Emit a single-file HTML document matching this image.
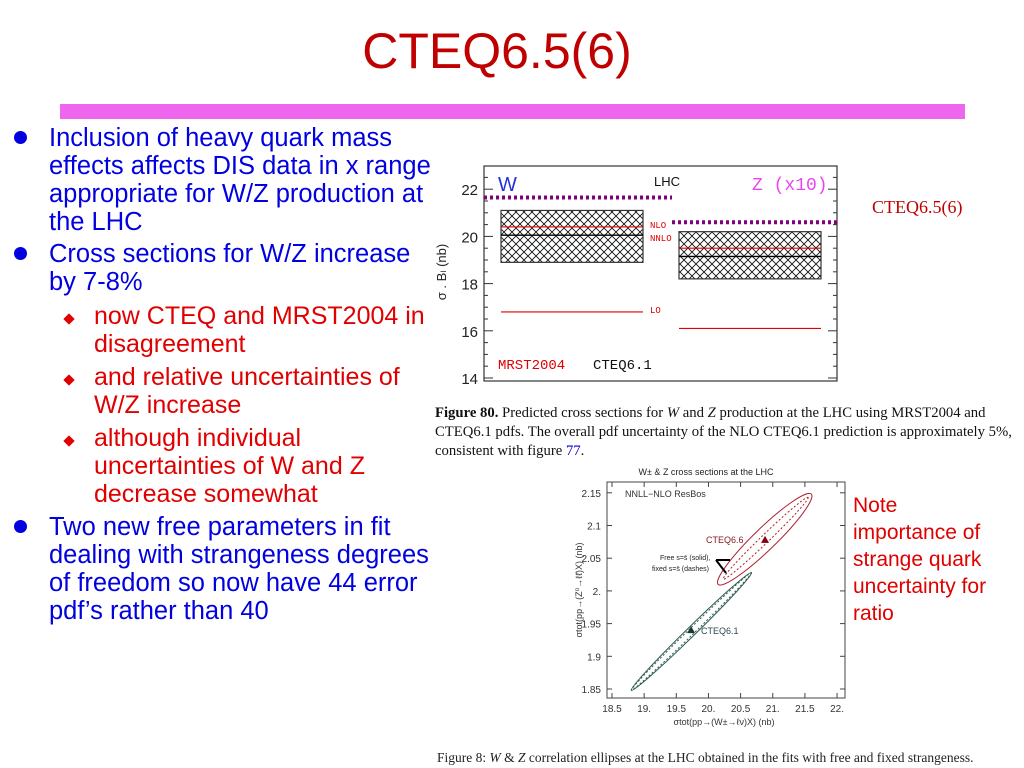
<!DOCTYPE html>
<html><head><meta charset="utf-8"><style>
body{margin:0;width:1024px;height:768px;background:#fff;position:relative;overflow:hidden;font-family:"Liberation Sans",Arial,sans-serif}
.a{position:absolute;white-space:nowrap}
.b{color:#0000e0;font-size:25.5px;line-height:28px}
.s{color:#e00000;font-size:25px;line-height:28px}
.dot{position:absolute;width:13px;height:13px;border-radius:50%;background:#0000e0}
.dia{position:absolute;width:8px;height:8px;background:#e00000;transform:rotate(45deg)}
.cap{font-family:"Liberation Serif",serif;font-size:14.7px;line-height:19px;color:#111}
</style></head><body>
<div class="a" style="left:0;width:994px;text-align:center;top:22px;font-size:50px;color:#c00000">CTEQ6.5(6)</div>
<div class="a" style="left:60px;top:104px;width:905px;height:15px;background:#ee66ee"></div>

<div>
<div class="dot" style="left:14px;top:131px"></div>
<div class="a b" style="left:49px;top:124px">Inclusion of heavy quark mass<br>effects affects DIS data in x range<br>appropriate for W/Z production at<br>the LHC</div>
<div class="dot" style="left:14px;top:247px"></div>
<div class="a b" style="left:49px;top:240px">Cross sections for W/Z increase<br>by 7-8%</div>
<div class="dia" style="left:65px;top:315px"></div>
<div class="a s" style="left:94px;top:302px">now CTEQ and MRST2004 in<br>disagreement</div>
<div class="dia" style="left:65px;top:376px"></div>
<div class="a s" style="left:94px;top:363px">and relative uncertainties of<br>W/Z increase</div>
<div class="dia" style="left:65px;top:437px"></div>
<div class="a s" style="left:94px;top:424px">although individual<br>uncertainties of W and Z<br>decrease somewhat</div>
<div class="dot" style="left:14px;top:520px"></div>
<div class="a b" style="left:49px;top:513px">Two new free parameters in fit<br>dealing with strangeness degrees<br>of freedom so now have 44 error<br>pdf’s rather than 40</div>
</div>

<div class="a" style="left:872px;top:197px;font-family:'Liberation Serif',serif;font-size:18px;color:#c00000">CTEQ6.5(6)</div>
<div class="a" style="left:853px;top:492px;font-size:21px;line-height:27px;color:#e00000">Note<br>importance of<br>strange quark<br>uncertainty for<br>ratio</div>

<div class="a cap" style="left:435px;top:404px"><b>Figure 80.</b> Predicted cross sections for <i>W</i> and <i>Z</i> production at the LHC using MRST2004 and<br>CTEQ6.1 pdfs. The overall pdf uncertainty of the NLO CTEQ6.1 prediction is approximately 5%,<br>consistent with figure <span style="color:#0000cc">77</span>.</div>
<div class="a" style="left:437px;top:750px;font-family:'Liberation Serif',serif;font-size:13.5px;color:#222">Figure 8: <i>W</i> &amp; <i>Z</i> correlation ellipses at the LHC obtained in the fits with free and fixed strangeness.</div>

<svg id="top" width="1024" height="768" style="position:absolute;left:0;top:0">
<defs><pattern id="hatch" width="8" height="8" patternUnits="userSpaceOnUse"><path d="M0,0L8,8M8,0L0,8" stroke="#111" stroke-width="0.9"/></pattern></defs>
</svg>
<script>
// Top chart data
const topTicks=[14,16,18,20,22];
const boxLabels=["W","Z"];
const boxHi=[21.1,20.2];
const boxLo=[18.9,18.2];
const nloVals=[20.4,19.5];
const nnloVals=[20.05,19.15];
const loVals=[16.8,16.1];
const mrstVals=[21.65,20.6];
// Bottom chart data
const xTicks=[18.5,19,19.5,20,20.5,21,21.5,22];
const yTicks=[1.85,1.9,1.95,2,2.05,2.1,2.15];
const ell66=[20.15,2.01,21.6,2.148];
const ell61=[18.8,1.848,20.67,2.028];
const pt66=[20.88,2.078];
const pt61=[19.73,1.94];

const NS="http://www.w3.org/2000/svg";
const svg=document.getElementById('top');
function mk(t,at,txt){const e=document.createElementNS(NS,t);for(const k in at)e.setAttribute(k,at[k]);if(txt!==undefined)e.textContent=txt;svg.appendChild(e);return e;}
const FL=484,FR=837,FT=166,FB=381;
const yT=v=>378-(v-14)*23.6;
const bx0=[501,679],bx1=[643,821];
let f=mk('rect',{x:FL,y:FT,width:FR-FL,height:FB-FT,fill:'none',stroke:'#333','stroke-width':1.2});


for(let v=14;v<=22.5;v+=0.5){const big=v%2===0;const L=big?9:4;mk('line',{x1:FL,x2:FL+L,y1:yT(v),y2:yT(v),stroke:'#333'});mk('line',{x1:FR,x2:FR-L,y1:yT(v),y2:yT(v),stroke:'#333'});}
topTicks.forEach(v=>{const t=mk('text',{x:FL-6,y:yT(v)+6,'text-anchor':'end','font-size':15,fill:'#222','font-family':'Liberation Sans'},String(v));

});
let yl=mk('text',{transform:'translate(446,272) rotate(-90)','text-anchor':'middle','font-size':13,fill:'#222','font-family':'Liberation Sans'},'σ . B\u2097 (nb)');


boxLabels.forEach((lab,i)=>{
 let r=mk('rect',{x:bx0[i],y:yT(boxHi[i]),width:bx1[i]-bx0[i],height:yT(boxLo[i])-yT(boxHi[i]),fill:'url(#hatch)',stroke:'#333','stroke-width':1.2});
 
 
 let a=mk('line',{x1:bx0[i],x2:bx1[i],y1:yT(nloVals[i]),y2:yT(nloVals[i]),stroke:'#e00000','stroke-width':1.2});
 
 
 let b=mk('line',{x1:bx0[i],x2:bx1[i],y1:yT(nnloVals[i]),y2:yT(nnloVals[i]),stroke:'#000','stroke-width':1.4});
 
 
 let c=mk('line',{x1:bx0[i],x2:bx1[i],y1:yT(loVals[i]),y2:yT(loVals[i]),stroke:'#e00000','stroke-width':1.2});
 
 
 let d=mk('line',{x1:i?672:FL,x2:i?FR:672,y1:yT(mrstVals[i]),y2:yT(mrstVals[i]),stroke:'#800080','stroke-width':4,'stroke-dasharray':'3,3'});
 
 
});
const lbl=(x,y,s,c,t,n,ff)=>{const e=mk('text',{x:x,y:y,'font-size':s,fill:c,'font-family':ff||'Liberation Mono'},t);};
lbl(498,191,20,'#2233dd','W','w-label','Liberation Sans');
lbl(654,186,13,'#111','LHC','lhc-label','Liberation Sans');
lbl(752,190,18,'#ee44ee','Z (x10)','z-label');
lbl(650,228,9,'#e00000','NLO','nlo-label');
lbl(650,241,9,'#e00000','NNLO','nnlo-label');
lbl(650,313,9,'#e00000','LO','lo-label');
lbl(498,369,14,'#e00000','MRST2004','mrst-legend');
lbl(593,369,14,'#111','CTEQ6.1','cteq61-legend');

const L2=607,R2=845,T2=482,B2=698;
const xB=v=>612+(v-18.5)*64.3;
const yB=v=>689-(v-1.85)*654;
let f2=mk('rect',{x:L2,y:T2,width:R2-L2,height:B2-T2,fill:'none',stroke:'#444','stroke-width':1});


xTicks.forEach(v=>{mk('line',{x1:xB(v),x2:xB(v),y1:B2,y2:B2-5,stroke:'#444'});mk('line',{x1:xB(v),x2:xB(v),y1:T2,y2:T2+5,stroke:'#444'});
 const t=mk('text',{x:xB(v),y:B2+14,'text-anchor':'middle','font-size':10,fill:'#333','font-family':'Liberation Sans'},v%1===0?v+'.':String(v));
 
 });
yTicks.forEach(v=>{mk('line',{x1:L2,x2:L2+5,y1:yB(v),y2:yB(v),stroke:'#444'});mk('line',{x1:R2,x2:R2-5,y1:yB(v),y2:yB(v),stroke:'#444'});
 const t=mk('text',{x:L2-6,y:yB(v)+4,'text-anchor':'end','font-size':10,fill:'#333','font-family':'Liberation Sans'},v===2?'2.':String(v));
 
 });
function ell(e,minor,col,dash,name){const x1=xB(e[0]),y1=yB(e[1]),x2=xB(e[2]),y2=yB(e[3]);const cx=(x1+x2)/2,cy=(y1+y2)/2;const len=Math.hypot(x2-x1,y2-y1)/2;const ang=Math.atan2(y2-y1,x2-x1)*180/Math.PI;
 const el=mk('ellipse',{cx:cx,cy:cy,rx:len,ry:minor,transform:`rotate(${ang} ${cx} ${cy})`,fill:'none',stroke:col,'stroke-width':1,'stroke-dasharray':dash});
 
 }
ell(ell66,11,'#b02030','','cteq66-ellipse-solid');
ell([ell66[0]+0.08,ell66[1]+0.008,ell66[2]-0.05,ell66[3]-0.005],4,'#b02030','2,2','cteq66-ellipse-dashed');
ell(ell61,4.5,'#2a5a50','','cteq61-ellipse-solid');
ell(ell61,3,'#2a5a50','2,2','cteq61-ellipse-dashed');
function tri(p,col,name){const x=xB(p[0]),y=yB(p[1]);const t=mk('polygon',{points:`${x},${y-4} ${x-4},${y+3} ${x+4},${y+3}`,fill:col});}
tri(pt66,'#800010','cteq66-point');
tri(pt61,'#1a3a30','cteq61-point');
const tx=(x,y,s,c,t,n,a)=>{const e=mk('text',{x:x,y:y,'font-size':s,fill:c,'font-family':'Liberation Sans','text-anchor':a||'start'},t);};
tx(706,475,9,'#222','W± & Z cross sections at the LHC','ellipse-chart-title','middle');
tx(625,497,9,'#333','NNLL−NLO ResBos','resbos-label');
tx(706,543,9,'#8a1a20','CTEQ6.6','cteq66-label');
tx(701,634,9,'#2a4a50','CTEQ6.1','cteq61-label');
tx(660,560,7,'#222','Free s=s̄ (solid),','free-s-label');
tx(652,571,7,'#222','fixed s=s̄ (dashes)','fixed-s-label');
mk('path',{d:'M716,560 L730,560 M716,560 L726,573',stroke:'#000','stroke-width':2,fill:'none'});
const yl2=mk('text',{transform:'translate(582,590) rotate(-90)','text-anchor':'middle','font-size':9,fill:'#333','font-family':'Liberation Sans'},'σtot(pp→(Z⁰→ℓℓ̄)X) (nb)');


tx(724,725,9,'#333','σtot(pp→(W±→ℓν)X) (nb)','ellipse-x-axis-title','middle');
</script>
</body></html>
